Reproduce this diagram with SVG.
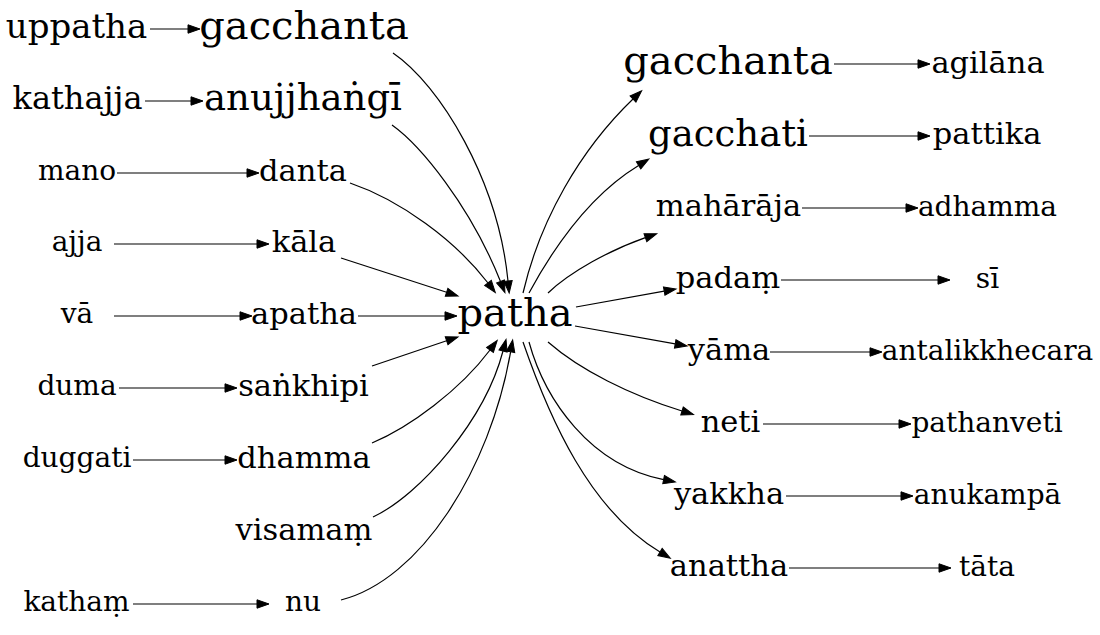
<svg xmlns="http://www.w3.org/2000/svg" width="1100" height="635" viewBox="0 0 1100 635">
<style>
text{font-family:"DejaVu Serif","Liberation Serif",serif;fill:#000;text-anchor:middle}
.s28{font-size:28px}.s30{font-size:30.5px}.s32{font-size:32px}.s34{font-size:34px}.s37{font-size:37px}.s40{font-size:40px}
.e path{fill:none;stroke:#000;stroke-width:1.2;marker-end:url(#ah)}
</style>
<defs>
<marker id="ah" markerUnits="userSpaceOnUse" markerWidth="13" markerHeight="9" refX="0" refY="4.2" orient="auto" overflow="visible">
<path d="M0,0 L12,4.2 L0,8.4 Z" fill="#000" stroke="#000" stroke-width="1"/>
</marker>
</defs>
<rect width="1100" height="635" fill="#fff"/>
<g id="edges" class="e">
<path d="M150,29 L188,29"/>
<path d="M145,101 L191,101"/>
<path d="M117,173 L247,173"/>
<path d="M114,244 L257,244"/>
<path d="M114,316 L240,316"/>
<path d="M119,388 L225,388"/>
<path d="M133,460 L225,460"/>
<path d="M133,604 L257,604"/>
<path d="M358,316 L445,316"/>
<path d="M393,53 C440,85 498,180 508,281"/>
<path d="M392,125 C420,145 470,205 500.5,281.5"/>
<path d="M350,183 C400,200 455,240 488,283"/>
<path d="M341,258 L446.6,292.3"/>
<path d="M372,366 L446.6,340.8"/>
<path d="M372,443 C410,427 460,390 490,350"/>
<path d="M373,517 C420,495 485,420 503,351"/>
<path d="M341,600 C420,580 490,470 510.6,351.8"/>
<path d="M523,293 C540,220 580,150 633,99"/>
<path d="M529,293 C555,245 590,195 638.6,165.4"/>
<path d="M548,293 C570,272 610,250 645.4,237.6"/>
<path d="M576,307 L664.2,291.1"/>
<path d="M575,326 L675.2,343.9"/>
<path d="M548,342 C580,370 630,395 682,411"/>
<path d="M529,342 C545,400 590,465 663.6,479.6"/>
<path d="M523,342 C550,420 590,510 660,552"/>
<path d="M834,64 L918,64"/>
<path d="M809,136 L918,136"/>
<path d="M802,208 L906,208"/>
<path d="M781,280 L938,280"/>
<path d="M770,352 L870,352"/>
<path d="M763,424 L899,424"/>
<path d="M786,496 L901,496"/>
<path d="M789,568 L939,568"/>
</g>
<g id="n_uppatha"><text class="s34" x="76.5" y="37.5">uppatha</text></g>
<g id="n_kathajja"><text class="s32" x="77.5" y="109">kathajja</text></g>
<g id="n_mano"><text class="s28" x="77" y="179.5">mano</text></g>
<g id="n_ajja"><text class="s28" x="77" y="250.5">ajja</text></g>
<g id="n_va"><text class="s28" x="77" y="322.5">vā</text></g>
<g id="n_duma"><text class="s28" x="77" y="394.5">duma</text></g>
<g id="n_duggati"><text class="s28" x="77" y="466.5">duggati</text></g>
<g id="n_katham"><text class="s28" x="76.5" y="610.5">kathaṃ</text></g>
<g id="n_gacchanta_l"><text class="s40" x="304" y="39">gacchanta</text></g>
<g id="n_anujjhangi"><text class="s37" x="303" y="110">anujjhaṅgī</text></g>
<g id="n_danta"><text class="s30" x="303" y="180.5">danta</text></g>
<g id="n_kala"><text class="s30" x="304" y="251.5">kāla</text></g>
<g id="n_apatha"><text class="s30" x="304" y="323.5">apatha</text></g>
<g id="n_sankhipi"><text class="s30" x="303.5" y="395.5">saṅkhipi</text></g>
<g id="n_dhamma"><text class="s30" x="304" y="467.5">dhamma</text></g>
<g id="n_visamam"><text class="s30" x="304" y="539.5">visamaṃ</text></g>
<g id="n_nu"><text class="s28" x="303" y="610.5">nu</text></g>
<g id="n_patha"><text class="s40" x="515" y="326">patha</text></g>
<g id="n_gacchanta_r"><text class="s40" x="728" y="74">gacchanta</text></g>
<g id="n_gacchati"><text class="s37" x="728" y="145.5">gacchati</text></g>
<g id="n_maharaja"><text class="s30" x="728.5" y="215.5">mahārāja</text></g>
<g id="n_padam"><text class="s30" x="728" y="287.5">padaṃ</text></g>
<g id="n_yama"><text class="s30" x="729" y="359.5">yāma</text></g>
<g id="n_neti"><text class="s30" x="730.5" y="431.5">neti</text></g>
<g id="n_yakkha"><text class="s30" x="729" y="503.5">yakkha</text></g>
<g id="n_anattha"><text class="s30" x="729" y="575.5">anattha</text></g>
<g id="n_agilana"><text class="s30" x="988" y="73">agilāna</text></g>
<g id="n_pattika"><text class="s30" x="987" y="144">pattika</text></g>
<g id="n_adhamma"><text class="s28" x="987.5" y="215.5">adhamma</text></g>
<g id="n_si"><text class="s28" x="987.5" y="287.5">sī</text></g>
<g id="n_antalikkhecara"><text class="s28" x="987.5" y="359.5">antalikkhecara</text></g>
<g id="n_pathanveti"><text class="s28" x="987" y="431.5">pathanveti</text></g>
<g id="n_anukampa"><text class="s28" x="987.5" y="503.5">anukampā</text></g>
<g id="n_tata"><text class="s28" x="987" y="575.5">tāta</text></g>
</svg>
